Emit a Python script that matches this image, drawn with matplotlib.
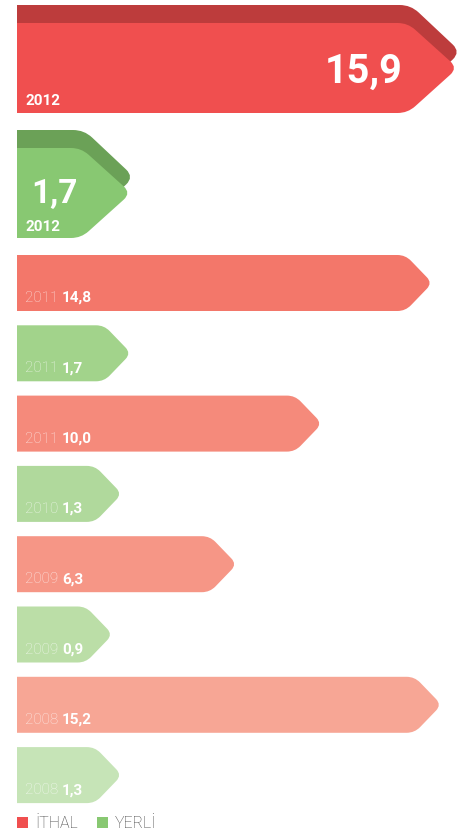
import numpy as np
import matplotlib.pyplot as plt
from matplotlib.path import Path
from matplotlib.patches import PathPatch, Rectangle

# data (top to bottom)
years = ['2012', '2012', '2011', '2011', '2011', '2010', '2009', '2009', '2008', '2008']
kinds = ['ithal', 'yerli', 'ithal', 'yerli', 'ithal', 'yerli', 'ithal', 'yerli', 'ithal', 'yerli']
values = [15.9, 1.7, 14.8, 1.7, 10.0, 1.3, 6.3, 0.9, 15.2, 1.3]
value_labels = ['15,9', '1,7', '14,8', '1,7', '10,0', '1,3', '6,3', '0,9', '15,2', '1,3']
bar_colors = ['#F04F4F', '#88C872', '#F3776A', '#A2D38B', '#F58A7B',
              '#B0D99C', '#F69686', '#BBDEA7', '#F7A695', '#C6E4B7']
dark_colors = {'ithal': '#BD3C3C', 'yerli': '#6BA157'}
legend_names = ['İTHAL', 'YERLİ']
legend_colors = ['#F04F4F', '#88C872']

plt.rcParams['font.family'] = ['Roboto', 'DejaVu Sans']

W, H = 466, 836
PX = 23.0          # pixels per unit on the x axis
X0 = 92.0          # pixel where value 0 sits
x_left = (17 - X0) / PX

fig = plt.figure(figsize=(W / 100, H / 100), dpi=100)
ax = fig.add_axes([0, 0, 1, 1])
ax.set_xlim(-X0 / PX, (W - X0) / PX)
ax.set_ylim(H, 0)
ax.axis('off')


def arrow(x0, x1, ytop, ybot, head, r, color, z=2):
    # work in pixel-like units for x so corners stay round
    a, b = x0 * PX, x1 * PX
    ym = (ytop + ybot) / 2
    pts = [(a, ytop), (b - head, ytop), (b, ym), (b - head, ybot), (a, ybot)]
    verts, codes = [pts[0]], [Path.MOVETO]
    for i in (1, 2, 3):
        v = np.array(pts[i])
        p = np.array(pts[i - 1])
        n = np.array(pts[i + 1])
        da = (p - v) / np.linalg.norm(p - v)
        db = (n - v) / np.linalg.norm(n - v)
        verts += [tuple(v + da * r), tuple(v), tuple(v + db * r)]
        codes += [Path.LINETO, Path.CURVE3, Path.CURVE3]
    verts += [pts[4], pts[0]]
    codes += [Path.LINETO, Path.CLOSEPOLY]
    verts = [(vx / PX, vy) for vx, vy in verts]
    ax.add_patch(PathPatch(Path(verts, codes), facecolor=color,
                           edgecolor='none', zorder=z))


# two highlighted 2012 bars
big_tops = [23, 148]
for i in range(2):
    top = big_tops[i]
    bot = top + 90
    arrow(x_left, values[i] + 3 / PX, top - 18, bot - 14, 50, 11,
          dark_colors[kinds[i]], z=1)
    arrow(x_left, values[i], top, bot, 50, 10, bar_colors[i], z=2)

ax.text(x_left + 8 / PX, 101, years[0], color='white', fontsize=11,
        fontweight='bold', ha='left', va='center', zorder=3)
ax.text(values[0] - 55 / PX, 72, value_labels[0], color='white',
        fontsize=28.5, fontweight='bold', ha='right', va='center', zorder=3)
ax.text(x_left + 14 / PX, 194, value_labels[1], color='white',
        fontsize=24, fontweight='bold', ha='left', va='center', zorder=3)
ax.text(x_left + 8 / PX, 227, years[1], color='white', fontsize=11,
        fontweight='bold', ha='left', va='center', zorder=3)

# smaller bars
for j, i in enumerate(range(2, len(values))):
    top = 255 + 70.3 * j
    bot = top + 56
    arrow(x_left, values[i], top, bot, 27, 8, bar_colors[i])
    t = ax.text(x_left + 8 / PX, top + 43, years[i] + ' ', color='white',
                alpha=0.75, fontsize=11, fontweight='light', ha='left',
                va='center', zorder=3)
    ax.annotate(value_labels[i], xy=(1, 0.5), xycoords=t, color='white',
                fontsize=11, fontweight='bold', ha='left', va='center',
                zorder=3)

# legend
lx = [17, 97]
for k in range(2):
    ax.add_patch(Rectangle(((lx[k] - X0) / PX, 817), 11 / PX, 11,
                           facecolor=legend_colors[k], edgecolor='none'))
    ax.text((lx[k] + 18 - X0) / PX, 823, legend_names[k], color='#444444',
            fontsize=11.5, fontweight='light', ha='left', va='center')

fig.savefig('out.png', dpi=100)
